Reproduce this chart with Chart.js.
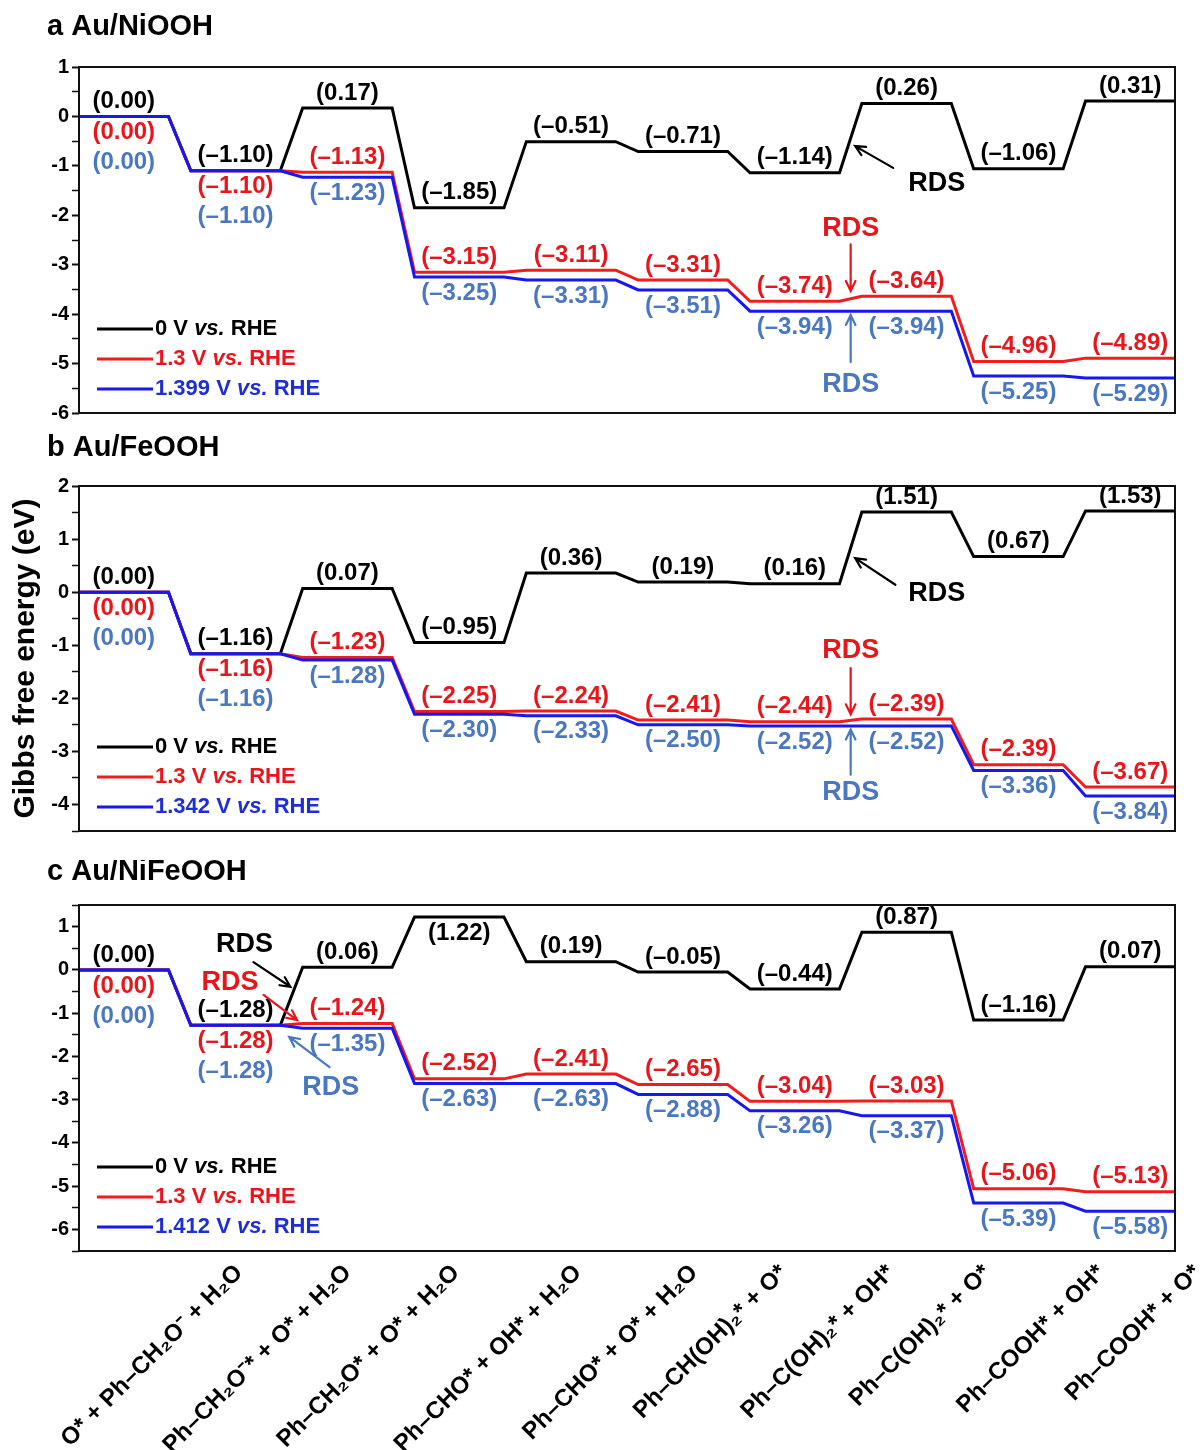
<!DOCTYPE html>
<html>
<head>
<meta charset="utf-8">
<title>Gibbs free energy diagrams</title>
<script src="https://cdn.jsdelivr.net/npm/chart.js@4.4.1/dist/chart.umd.min.js"></script>
<style>
  body { margin: 0; background: #fff; width: 1201px; height: 1450px; position: relative; overflow: hidden; }
  .panel { position: absolute; left: 0; width: 1201px; }
</style>
</head>
<body>
<div class="panel" style="top:0;height:430px"><canvas id="chartA"></canvas></div>
<div class="panel" style="top:430px;height:430px"><canvas id="chartB"></canvas></div>
<div class="panel" style="top:860px;height:590px"><canvas id="chartC"></canvas></div>
<script>
// reaction steps (x axis of the bottom panel)
const stepLabels = [
  "O* + Ph\u2013CH\u2082O\u207B + H\u2082O",
  "Ph\u2013CH\u2082O\u207B* + O* + H\u2082O",
  "Ph\u2013CH\u2082O* + O* + H\u2082O",
  "Ph\u2013CHO* + OH* + H\u2082O",
  "Ph\u2013CHO* + O* + H\u2082O",
  "Ph\u2013CH(OH)\u2082* + O*",
  "Ph\u2013C(OH)\u2082* + OH*",
  "Ph\u2013C(OH)\u2082* + O*",
  "Ph\u2013COOH* + OH*",
  "Ph\u2013COOH* + O*",
];
// where the end of each slanted step label sits, right of its level (in steps)
const stepLabelShift = [1.03, 1.0, 0.97, 1.06, 1.1, 0.9, 0.86, 0.72, 0.74, 0.6];

// a Au/NiOOH
const nioohPotentials = ["0", "1.3", "1.399"];
const niooh0V = [0.00, -1.10, 0.17, -1.85, -0.51, -0.71, -1.14, 0.26, -1.06, 0.31];
const niooh13V = [0.00, -1.10, -1.13, -3.15, -3.11, -3.31, -3.74, -3.64, -4.96, -4.89];
const niooh1399V = [0.00, -1.10, -1.23, -3.25, -3.31, -3.51, -3.94, -3.94, -5.25, -5.29];

// b Au/FeOOH
const feoohPotentials = ["0", "1.3", "1.342"];
const feooh0V = [0.00, -1.16, 0.07, -0.95, 0.36, 0.19, 0.16, 1.51, 0.67, 1.53];
const feooh13V = [0.00, -1.16, -1.23, -2.25, -2.24, -2.41, -2.44, -2.39, -3.25, -3.67];
// the figure prints (-2.39) above the 1.3 V Ph-COOH* + OH* level
const feooh13VPrinted = [0.00, -1.16, -1.23, -2.25, -2.24, -2.41, -2.44, -2.39, -2.39, -3.67];
const feooh1342V = [0.00, -1.16, -1.28, -2.30, -2.33, -2.50, -2.52, -2.52, -3.36, -3.84];

// c Au/NiFeOOH
const nifeoohPotentials = ["0", "1.3", "1.412"];
const nifeooh0V = [0.00, -1.28, 0.06, 1.22, 0.19, -0.05, -0.44, 0.87, -1.16, 0.07];
const nifeooh13V = [0.00, -1.28, -1.24, -2.52, -2.41, -2.65, -3.04, -3.03, -5.06, -5.13];
const nifeooh1412V = [0.00, -1.28, -1.35, -2.63, -2.63, -2.88, -3.26, -3.37, -5.39, -5.58];

const FONT = "'Liberation Sans', Arial, sans-serif";
const LINE_COLORS = ["#000000", "#f21c1c", "#1717f0"];
const VALUE_COLORS = ["#000000", "#e8151b", "#4a78c0"];
const LEGEND_COLORS = ["#000000", "#e8151b", "#1c2ed4"];
const HALF = 0.4; // half width of an energy level

function fmt(v) {
  return "(" + (v < 0 ? "\u2013" : "") + Math.abs(v).toFixed(2) + ")";
}

function drawArrow(ctx, x1, y1, x2, y2, color) {
  const a = Math.atan2(y2 - y1, x2 - x1);
  const h = 11;
  ctx.save();
  ctx.strokeStyle = color;
  ctx.lineWidth = 2.2;
  ctx.lineCap = "round";
  ctx.beginPath();
  ctx.moveTo(x1, y1);
  ctx.lineTo(x2, y2);
  ctx.moveTo(x2 - h * Math.cos(a - 0.45), y2 - h * Math.sin(a - 0.45));
  ctx.lineTo(x2, y2);
  ctx.lineTo(x2 - h * Math.cos(a + 0.45), y2 - h * Math.sin(a + 0.45));
  ctx.stroke();
  ctx.restore();
}

function makePanel(p) {
  const decor = {
    id: "decor",
    afterDatasetsDraw(chart) {
      const { ctx, scales } = chart;
      const xs = scales.x, ys = scales.y;
      ctx.save();
      ctx.font = "bold 24px " + FONT;
      ctx.textAlign = "center";
      ctx.textBaseline = "middle";
      p.printed.forEach((vals, k) => {
        ctx.fillStyle = VALUE_COLORS[k];
        vals.forEach((v, i) => {
          let dy = -15;
          if (k === 0 && p.blackBelow.includes(i)) dy = 16;
          if (k === 1 && p.stacked.includes(i)) dy = 16;
          if (k === 2) dy = p.stacked.includes(i) ? 46 : 16;
          ctx.fillText(fmt(v), xs.getPixelForValue(i), ys.getPixelForValue(p.series[k][i]) + dy);
        });
      });

      // rate determining step marks
      p.rds.forEach(r => {
        ctx.fillStyle = r.color;
        ctx.font = "bold 27px " + FONT;
        ctx.fillText("RDS", xs.getPixelForValue(r.text[0]), ys.getPixelForValue(r.text[1]));
        drawArrow(ctx, xs.getPixelForValue(r.from[0]), ys.getPixelForValue(r.from[1]),
          xs.getPixelForValue(r.to[0]), ys.getPixelForValue(r.to[1]), r.color);
      });
      ctx.restore();
    },
    afterDraw(chart) {
      const { ctx, chartArea } = chart;
      ctx.save();
      ctx.strokeStyle = "#111";
      ctx.lineWidth = 2;
      ctx.strokeRect(chartArea.left, chartArea.top, chartArea.right - chartArea.left, chartArea.bottom - chartArea.top);

      // panel title
      ctx.fillStyle = "#000";
      ctx.font = "bold 29px " + FONT;
      ctx.textAlign = "left";
      ctx.textBaseline = "middle";
      ctx.fillText(p.title, 47, chartArea.top - p.titleGap);

      // legend
      p.potentials.forEach((pot, k) => {
        const y = chartArea.bottom - 84 + 30 * k;
        const x0 = chartArea.left + 18;
        ctx.strokeStyle = LINE_COLORS[k];
        ctx.lineWidth = 3;
        ctx.beginPath();
        ctx.moveTo(x0, y);
        ctx.lineTo(x0 + 56, y);
        ctx.stroke();
        ctx.fillStyle = LEGEND_COLORS[k];
        let x = x0 + 58;
        const parts = [[pot + " V ", "bold"], ["vs.", "italic bold"], [" RHE", "bold"]];
        parts.forEach(([t, w]) => {
          ctx.font = w + " 22px " + FONT;
          ctx.fillText(t, x, y);
          x += ctx.measureText(t).width;
        });
      });
      ctx.restore();
    }
  };

  const datasets = p.series.map((vals, k) => ({
    label: p.potentials[k] + " V vs. RHE",
    data: vals.flatMap((v, i) => [{ x: i - HALF, y: v }, { x: i + HALF, y: v }]),
    borderColor: LINE_COLORS[k],
    borderWidth: 3,
    pointRadius: 0,
    tension: 0,
    order: 3 - k,
  }));

  return new Chart(document.getElementById(p.canvas), {
    type: "line",
    data: { datasets },
    options: {
      responsive: true,
      maintainAspectRatio: false,
      animation: false,
      layout: { padding: { top: p.top, bottom: p.bottom, left: 0, right: 26 } },
      plugins: { legend: { display: false }, tooltip: { enabled: false } },
      scales: {
        x: {
          type: "linear",
          min: -HALF,
          max: stepLabels.length - 1 + HALF,
          display: p.showSteps,
          afterBuildTicks: axis => {
            axis.ticks = stepLabels.map((_, i) => ({ value: i + stepLabelShift[i] }));
          },
          afterFit: axis => {
            axis.height = p.xAxisHeight;
            axis.paddingLeft = 0;
            axis.paddingRight = 0;
          },
          ticks: {
            autoSkip: false,
            minRotation: 45,
            maxRotation: 45,
            padding: 8,
            color: "#000",
            font: { family: FONT, size: 24, weight: "bold" },
            callback: (v, i) => stepLabels[i],
          },
          grid: { display: false, drawTicks: false },
          border: { display: false },
        },
        y: {
          min: p.yMin,
          max: p.yMax,
          afterFit: axis => { axis.width = 79; },
          ticks: {
            stepSize: 0.5,
            autoSkip: false,
            includeBounds: false,
            padding: 3,
            color: "#000",
            font: { family: FONT, size: 20, weight: "bold" },
            callback: v => (Number.isInteger(v) ? v : ""),
          },
          grid: {
            drawOnChartArea: false,
            tickLength: 7,
            tickColor: "#111",
            tickWidth: c => (c.tick && Number.isInteger(c.tick.value) ? 2 : 1.5),
          },
          border: { display: false },
          title: {
            display: !!p.yTitle,
            text: p.yTitle || "",
            color: "#000",
            font: { family: FONT, size: 30, weight: "bold" },
            padding: { top: 8, bottom: 0 },
          },
        },
      },
    },
    plugins: [decor],
  });
}

makePanel({
  canvas: "chartA",
  title: "a Au/NiOOH",
  titleGap: 40,
  potentials: nioohPotentials,
  series: [niooh0V, niooh13V, niooh1399V],
  printed: [niooh0V, niooh13V, niooh1399V],
  yMin: -6, yMax: 1,
  top: 67, bottom: 17, xAxisHeight: 0, showSteps: false,
  stacked: [0, 1], blackBelow: [],
  rds: [
    { color: VALUE_COLORS[0], text: [7.27, -1.35], from: [6.88, -1.04], to: [6.54, -0.60] },
    { color: VALUE_COLORS[1], text: [6.50, -2.26], from: [6.50, -2.59], to: [6.50, -3.53] },
    { color: VALUE_COLORS[2], text: [6.50, -5.43], from: [6.50, -4.97], to: [6.50, -4.02] },
  ],
});

makePanel({
  canvas: "chartB",
  title: "b Au/FeOOH",
  titleGap: 38,
  yTitle: "Gibbs free energy (eV)",
  potentials: feoohPotentials,
  series: [feooh0V, feooh13V, feooh1342V],
  printed: [feooh0V, feooh13VPrinted, feooh1342V],
  yMin: -4.5, yMax: 2,
  top: 56, bottom: 29, xAxisHeight: 0, showSteps: false,
  stacked: [0, 1], blackBelow: [],
  rds: [
    { color: VALUE_COLORS[0], text: [7.27, -0.03], from: [6.90, 0.14], to: [6.54, 0.64] },
    { color: VALUE_COLORS[1], text: [6.50, -1.10], from: [6.50, -1.43], to: [6.50, -2.30] },
    { color: VALUE_COLORS[2], text: [6.50, -3.78], from: [6.50, -3.44], to: [6.50, -2.59] },
  ],
});

makePanel({
  canvas: "chartC",
  title: "c Au/NiFeOOH",
  titleGap: 33,
  potentials: nifeoohPotentials,
  series: [nifeooh0V, nifeooh13V, nifeooh1412V],
  printed: [nifeooh0V, nifeooh13V, nifeooh1412V],
  yMin: -6.5, yMax: 1.5,
  top: 45, bottom: 0, xAxisHeight: 199, showSteps: true,
  stacked: [0, 1], blackBelow: [3],
  rds: [
    { color: VALUE_COLORS[0], text: [1.08, 0.58], from: [1.16, 0.18], to: [1.49, -0.39] },
    { color: VALUE_COLORS[1], text: [0.95, -0.30], from: [1.25, -0.58], to: [1.55, -1.16] },
    { color: VALUE_COLORS[2], text: [1.85, -2.73], from: [1.84, -2.25], to: [1.48, -1.55] },
  ],
});
</script>
</body>
</html>
